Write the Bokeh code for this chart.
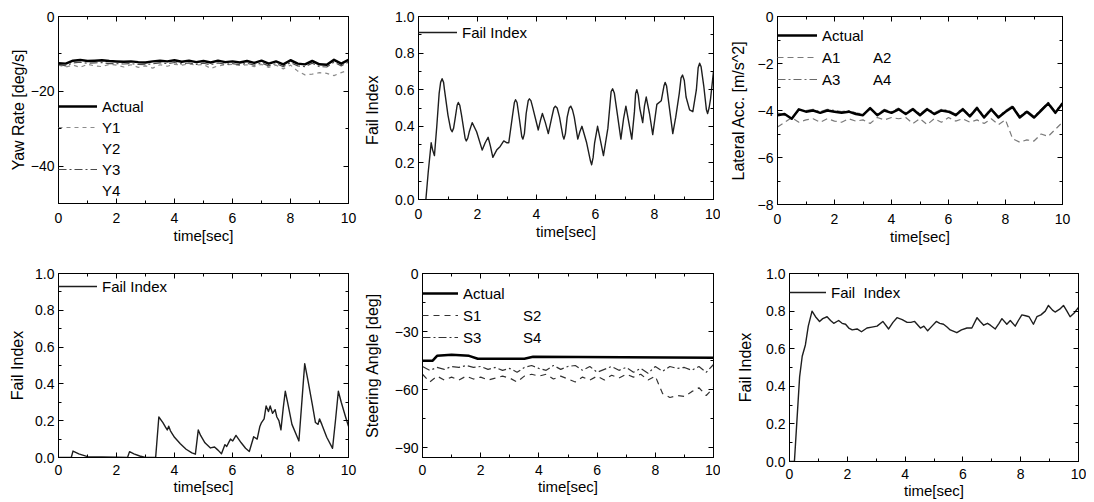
from bokeh.plotting import figure
from bokeh.models import (Range1d, LinearAxis, FixedTicker, NumeralTickFormatter,
                          BasicTickFormatter, Legend, LegendItem)
from bokeh.layouts import row, column
from bokeh.embed import file_html
from bokeh.resources import INLINE

FONT = "Liberation Sans"

# ---------------- data ----------------
x_ticks = [0, 2, 4, 6, 8, 10]
x_minor = [1, 3, 5, 7, 9]

t_grid = [0.0, 0.25, 0.5, 0.75, 1.0, 1.25, 1.5, 1.75, 2.0, 2.25, 2.5, 2.75, 3.0, 3.25,
          3.5, 3.75, 4.0, 4.25, 4.5, 4.75, 5.0, 5.25, 5.5, 5.75, 6.0, 6.25, 6.5, 6.75,
          7.0, 7.25, 7.5, 7.75, 8.0, 8.25, 8.5, 8.75, 9.0, 9.25, 9.5, 9.75, 10.0]

# Yaw rate [deg/s]
yaw_actual = [-12.5, -12.6, -11.8, -11.6, -11.9, -11.8, -11.7, -11.9, -12.0, -12.1,
              -12.0, -12.2, -12.3, -12.0, -11.8, -12.0, -11.7, -12.1, -11.8, -12.2,
              -11.9, -12.3, -11.8, -12.2, -12.0, -12.3, -11.9, -12.4, -11.8, -12.6,
              -12.0, -12.8, -11.7, -12.6, -12.8, -11.9, -12.8, -12.9, -11.6, -12.6, -11.6]
yaw_y1 = [-13.0, -13.5, -13.0, -13.6, -12.8, -13.2, -13.4, -12.8, -13.0, -13.5,
          -12.9, -13.6, -13.2, -13.8, -12.9, -13.3, -12.8, -13.0, -12.7, -13.0,
          -12.8, -13.9, -13.2, -12.9, -12.8, -13.1, -12.9, -13.4, -12.8, -13.6,
          -13.0, -14.0, -13.0, -14.6, -15.6, -15.4, -15.0, -15.2, -15.8, -15.0, -14.4]
yaw_y3 = [-12.8, -13.2, -12.4, -12.2, -12.5, -12.4, -12.3, -12.6, -12.6, -12.7,
          -12.6, -12.8, -12.9, -12.6, -12.4, -12.6, -12.3, -12.7, -12.4, -12.8,
          -12.5, -12.9, -12.4, -12.8, -12.6, -12.9, -12.5, -13.0, -12.4, -13.2,
          -12.6, -13.4, -12.3, -13.2, -13.4, -12.5, -13.4, -13.5, -12.2, -13.2, -12.2]

# Fail index (top middle)
t_fi2 = [0.25, 0.33, 0.43, 0.48, 0.54, 0.62, 0.70, 0.75, 0.80, 0.85,
         0.88, 1.0, 1.09, 1.14, 1.19, 1.24, 1.31, 1.35, 1.40, 1.46,
         1.58, 1.62, 1.67, 1.72, 1.82, 1.97, 2.16, 2.26, 2.36, 2.44,
         2.52, 2.65, 2.77, 2.89, 3.0, 3.06, 3.18, 3.25, 3.29, 3.34,
         3.42, 3.50, 3.54, 3.59, 3.65, 3.72, 3.76, 3.81, 3.86, 4.06,
         4.13, 4.20, 4.30, 4.40, 4.52, 4.59, 4.64, 4.70, 4.78, 4.89,
         4.93, 4.98, 5.04, 5.11, 5.16, 5.22, 5.28, 5.40, 5.47, 5.54,
         5.70, 5.83, 5.87, 5.92, 5.97, 6.07, 6.17, 6.27, 6.42, 6.53,
         6.58, 6.64, 6.72, 6.86, 6.95, 7.03, 7.13, 7.23, 7.32, 7.36,
         7.40, 7.45, 7.50, 7.60, 7.66, 7.72, 7.83, 7.94, 8.08, 8.23,
         8.32, 8.36, 8.41, 8.49, 8.62, 8.72, 8.84, 8.90, 8.95, 9.01,
         9.07, 9.19, 9.30, 9.42, 9.48, 9.53, 9.58, 9.67, 9.76, 9.80,
         9.85, 9.90, 10.0]
v_fi2 = [0.0, 0.15, 0.31, 0.27, 0.24, 0.40, 0.58, 0.64, 0.66, 0.64,
         0.60, 0.46, 0.385, 0.37, 0.39, 0.44, 0.515, 0.53, 0.515, 0.46,
         0.335, 0.32, 0.335, 0.37, 0.42, 0.37, 0.27, 0.31, 0.34, 0.29,
         0.23, 0.27, 0.29, 0.32, 0.31, 0.31, 0.45, 0.53, 0.545, 0.53,
         0.44, 0.345, 0.33, 0.36, 0.47, 0.54, 0.55, 0.54, 0.51, 0.38,
         0.43, 0.47, 0.42, 0.36, 0.45, 0.50, 0.51, 0.50, 0.45, 0.35,
         0.33, 0.36, 0.45, 0.50, 0.51, 0.49, 0.45, 0.33, 0.37, 0.40,
         0.31, 0.21, 0.19, 0.23, 0.31, 0.40, 0.32, 0.24, 0.39, 0.59,
         0.605, 0.58, 0.49, 0.33, 0.44, 0.51, 0.42, 0.33, 0.48, 0.58,
         0.60, 0.57, 0.50, 0.42, 0.51, 0.56, 0.47, 0.355, 0.52, 0.54,
         0.62, 0.64, 0.62, 0.52, 0.36, 0.45, 0.58, 0.665, 0.68, 0.65,
         0.56, 0.49, 0.48, 0.60, 0.72, 0.745, 0.725, 0.62, 0.49, 0.47,
         0.50, 0.55, 0.70]

# Lateral acceleration [m/s^2]
lat_actual = [-4.2, -4.15, -4.35, -3.95, -4.05, -4.0, -4.1, -4.0, -4.05, -4.1,
              -4.05, -4.15, -4.2, -3.9, -4.2, -4.0, -4.1, -3.95, -4.15, -3.95,
              -4.2, -3.95, -4.15, -4.0, -4.05, -4.2, -3.95, -4.25, -3.9, -4.3,
              -3.95, -4.3, -4.05, -3.85, -4.3, -4.05, -4.3, -4.0, -3.7, -4.1, -3.7]
lat_a1 = [-4.7, -4.5, -4.3, -4.5, -4.4, -4.35, -4.5, -4.35, -4.45, -4.5,
          -4.35, -4.45, -4.4, -4.55, -4.3, -4.4, -4.3, -4.35, -4.3, -4.55,
          -4.35, -4.6, -4.35, -4.5, -4.3, -4.45, -4.35, -4.5, -4.4, -4.55,
          -4.35, -4.6, -4.4, -5.2, -5.35, -5.25, -5.3, -5.0, -5.1, -4.8, -4.5]
lat_a3 = [-4.1, -4.2, -4.3, -4.0, -4.0, -3.95, -4.05, -3.95, -4.0, -4.05,
          -4.0, -4.1, -4.15, -3.95, -4.15, -3.95, -4.05, -3.9, -4.1, -3.9,
          -4.15, -3.9, -4.1, -3.95, -4.0, -4.15, -3.9, -4.2, -3.85, -4.25,
          -3.9, -4.25, -4.0, -3.8, -4.25, -4.0, -4.25, -3.95, -3.65, -4.05, -3.65]

# Fail index (bottom left)
t_fi4 = [0, 0.44, 0.50, 0.7, 1.0, 1.5, 2.0, 2.38, 2.45, 2.6,
         2.8, 3.0, 3.35, 3.46, 3.6, 3.69, 3.75, 3.80, 3.86, 4.0,
         4.2, 4.4, 4.6, 4.72, 4.82, 4.9, 5.05, 5.24, 5.38, 5.5,
         5.62, 5.74, 5.8, 5.88, 5.93, 6.01, 6.12, 6.3, 6.45, 6.58,
         6.73, 6.85, 6.94, 7.0, 7.09, 7.16, 7.24, 7.3, 7.38, 7.47,
         7.53, 7.6, 7.67, 7.75, 7.82, 7.9, 8.05, 8.29, 8.4, 8.49,
         8.6, 8.75, 8.86, 8.95, 9.0, 9.08, 9.25, 9.45, 9.55, 9.65,
         9.75, 9.9, 10.0]
v_fi4 = [0, 0, 0.035, 0.02, 0.005, 0.003, 0.002, 0, 0.032, 0.02,
         0.008, 0, 0, 0.22, 0.19, 0.165, 0.15, 0.17, 0.145, 0.11,
         0.075, 0.045, 0.025, 0.018, 0.15, 0.12, 0.08, 0.052, 0.057, 0.04,
         0.02, 0.07, 0.06, 0.085, 0.10, 0.09, 0.12, 0.08, 0.05, 0.033,
         0.113, 0.10, 0.167, 0.19, 0.21, 0.28, 0.25, 0.28, 0.24, 0.26,
         0.22, 0.2, 0.15, 0.27, 0.36, 0.3, 0.18, 0.09, 0.32, 0.51,
         0.42, 0.29, 0.19, 0.18, 0.21, 0.18, 0.11, 0.05, 0.2, 0.36,
         0.3, 0.22, 0.17]

# Steering angle [deg]
t_steer_act = [0, 0.35, 0.5, 1.0, 1.6, 1.9, 3.5, 3.8, 10]
steer_actual = [-45, -45, -42.5, -42, -42.5, -44, -44, -43, -43.5]
steer_s1 = [-52, -56, -53, -55, -53.5, -55, -53, -54.5, -53.5, -55,
            -54, -53, -54, -56, -53, -52, -53, -52, -54.5, -53,
            -54.5, -56, -53.5, -55, -53, -55, -52.5, -54, -52, -53.5,
            -52, -55, -53, -62, -64, -63, -63.5, -61, -59, -63, -59]
steer_s3 = [-48, -50, -48.5, -49.5, -48, -48.5, -47.5, -48.5, -48, -49.5,
            -48.5, -50, -49, -51, -48.5, -47.5, -49, -50, -47.5, -49.5,
            -48, -47.5, -50, -48, -51, -49.5, -48, -50, -48.5, -51,
            -49, -51.5, -48, -50.5, -48, -49, -48.5, -50, -48, -51, -47]

# Fail index (bottom right)
t_fi6 = [0, 0.17, 0.25, 0.35, 0.44, 0.55, 0.65, 0.78, 0.9, 1.04,
         1.15, 1.30, 1.42, 1.53, 1.70, 1.82, 1.94, 2.05, 2.17, 2.34,
         2.49, 2.68, 2.85, 3.03, 3.23, 3.43, 3.58, 3.72, 3.9, 4.07,
         4.2, 4.33, 4.53, 4.65, 4.78, 4.93, 5.08, 5.2, 5.33, 5.45,
         5.56, 5.79, 5.95, 6.14, 6.31, 6.49, 6.6, 6.72, 6.85, 6.95,
         7.12, 7.25, 7.35, 7.52, 7.64, 7.81, 7.92, 8.04, 8.17, 8.29,
         8.44, 8.56, 8.70, 8.85, 8.96, 9.1, 9.19, 9.35, 9.48, 9.6,
         9.71, 9.85, 10.0]
v_fi6 = [0, 0, 0.2, 0.45, 0.56, 0.62, 0.72, 0.80, 0.77, 0.745,
         0.76, 0.77, 0.75, 0.735, 0.75, 0.735, 0.73, 0.71, 0.70, 0.705,
         0.69, 0.71, 0.715, 0.72, 0.745, 0.705, 0.74, 0.765, 0.755, 0.74,
         0.74, 0.745, 0.71, 0.72, 0.695, 0.72, 0.745, 0.735, 0.73, 0.715,
         0.70, 0.685, 0.70, 0.71, 0.71, 0.765, 0.745, 0.725, 0.735, 0.725,
         0.705, 0.735, 0.76, 0.73, 0.75, 0.72, 0.75, 0.78, 0.775, 0.77,
         0.73, 0.77, 0.78, 0.80, 0.83, 0.805, 0.795, 0.81, 0.83, 0.80,
         0.77, 0.79, 0.82]

fail_ticks = [0.0, 0.2, 0.4, 0.6, 0.8, 1.0]
fail_minor = [0.1, 0.3, 0.5, 0.7, 0.9]


# ---------------- helpers ----------------
def make_fig(fw, fh, bl, br, bt, bb, y0, y1):
    p = figure(frame_width=fw, frame_height=fh,
               min_border_left=bl, min_border_right=br,
               min_border_top=bt, min_border_bottom=bb,
               x_range=Range1d(0, 10), y_range=Range1d(y0, y1),
               x_axis_type=None, y_axis_type=None,
               output_backend="svg", toolbar_location=None)
    p.outline_line_color = "black"
    p.outline_line_width = 1
    p.background_fill_color = "white"
    p.border_fill_color = "white"
    return p


def add_axes(p, yt, ym, yfmt, ylabel, ystand, xtick_stand=9, xlab_stand=1):
    tick = dict(major_tick_in=5, major_tick_out=0, minor_tick_in=3, minor_tick_out=0,
                axis_line_color="black", major_tick_line_color="black",
                minor_tick_line_color="black", axis_line_width=1)
    lab = dict(major_label_text_font=FONT, major_label_text_font_size="14px",
               major_label_text_color="black", axis_label_text_font=FONT,
               axis_label_text_font_style="normal", axis_label_text_color="black")
    xb = LinearAxis(ticker=FixedTicker(ticks=x_ticks, minor_ticks=x_minor),
                    axis_label="time[sec]", axis_label_text_font_size="15px",
                    major_label_standoff=xtick_stand, axis_label_standoff=xlab_stand,
                    **tick, **lab)
    yl = LinearAxis(ticker=FixedTicker(ticks=yt, minor_ticks=ym), formatter=yfmt,
                    axis_label=ylabel, axis_label_text_font_size="16px",
                    major_label_standoff=4, axis_label_standoff=ystand, **tick, **lab)
    xt = LinearAxis(ticker=FixedTicker(ticks=x_ticks, minor_ticks=x_minor),
                    major_label_text_font_size="0px", major_label_text_alpha=0,
                    major_label_standoff=0, **tick)
    yr = LinearAxis(ticker=FixedTicker(ticks=yt, minor_ticks=ym),
                    major_label_text_font_size="0px", major_label_text_alpha=0,
                    major_label_standoff=0, **tick)
    p.add_layout(xb, "below")
    p.add_layout(yl, "left")
    p.add_layout(xt, "above")
    p.add_layout(yr, "right")


def add_legend(p, items, loc, glyph_w, standoff, spacing):
    lg = Legend(items=items, location=loc, orientation="vertical",
                glyph_width=glyph_w, glyph_height=20, label_height=20,
                label_standoff=standoff, spacing=spacing, padding=0, margin=0,
                border_line_alpha=0, background_fill_alpha=0,
                label_text_font=FONT, label_text_font_size="15px",
                label_text_color="black")
    p.add_layout(lg)


FI_COLOR = "#1e1e1e"

# ---------------- panel 1: yaw rate ----------------
f1 = make_fig(290, 187, 58, 12, 16, 47, -50, 0)
add_axes(f1, [0, -20, -40], [-10, -30, -50], BasicTickFormatter(), "Yaw Rate [deg/s]", 1)
r_y1 = f1.line(t_grid, yaw_y1, line_color="#8c8c8c", line_width=1.2, line_dash="4 4")
r_y2 = f1.line([], [], line_alpha=0)
r_y3 = f1.line(t_grid, yaw_y3, line_color="#4a4a4a", line_width=1.2, line_dash="8 3 2 3")
r_y4 = f1.line([], [], line_alpha=0)
r_ya = f1.line(t_grid, yaw_actual, line_color="black", line_width=2.5, line_join="round")
add_legend(f1, [LegendItem(label="Actual", renderers=[r_ya]),
                LegendItem(label="Y1", renderers=[r_y1]),
                LegendItem(label="Y2", renderers=[r_y2]),
                LegendItem(label="Y3", renderers=[r_y3]),
                LegendItem(label="Y4", renderers=[r_y4])], (0, 3), 39, 5, 1)

# ---------------- panel 2: fail index ----------------
f2 = make_fig(295, 183, 58, 7, 16, 51, 0, 1)
add_axes(f2, fail_ticks, fail_minor, NumeralTickFormatter(format="0.0"), "Fail  Index", 11)
r_f2 = f2.line(t_fi2, v_fi2, line_color=FI_COLOR, line_width=1.4, line_join="round")
add_legend(f2, [LegendItem(label="Fail Index", renderers=[r_f2])], (0, 157), 39, 5, 0)

# ---------------- panel 3: lateral acc ----------------
f3 = make_fig(285, 188, 57, 30, 16, 46, -8, 0)
add_axes(f3, [0, -2, -4, -6, -8], [-1, -3, -5, -7], BasicTickFormatter(),
         "Lateral Acc. [m/s^2]", 8)
r_a1 = f3.line(t_grid, lat_a1, line_color="#7a7a7a", line_width=1.2, line_dash="6 4")
r_a2 = f3.line([], [], line_alpha=0)
r_a3 = f3.line(t_grid, lat_a3, line_color="#6a6a6a", line_width=1.2, line_dash="8 3 2 3")
r_a4 = f3.line([], [], line_alpha=0)
r_aa = f3.line(t_grid, lat_actual, line_color="black", line_width=2.5, line_join="round")
add_legend(f3, [LegendItem(label="Actual", renderers=[r_aa]),
                LegendItem(label="A1", renderers=[r_a1]),
                LegendItem(label="A3", renderers=[r_a3])], (0, 115), 40, 5, 2)
add_legend(f3, [LegendItem(label="A2", renderers=[r_a2]),
                LegendItem(label="A4", renderers=[r_a4])], (95, 115), 1, 0, 2)

# ---------------- panel 4: fail index ----------------
f4 = make_fig(290, 184, 58, 12, 23, 43, 0, 1)
add_axes(f4, fail_ticks, fail_minor, NumeralTickFormatter(format="0.0"), "Fail Index", 6,
         xtick_stand=7, xlab_stand=0)
r_f4 = f4.line(t_fi4, v_fi4, line_color=FI_COLOR, line_width=1.4, line_join="round")
add_legend(f4, [LegendItem(label="Fail Index", renderers=[r_f4])], (0, 161), 39, 5, 0)

# ---------------- panel 5: steering angle ----------------
f5 = make_fig(291, 184, 62, 7, 23, 43, -95, 0)
add_axes(f5, [0, -30, -60, -90], [-15, -45, -75], BasicTickFormatter(),
         "Steering Angle [deg]", 11, xtick_stand=7, xlab_stand=0)
r_s1 = f5.line(t_grid, steer_s1, line_color="#333333", line_width=1.2, line_dash="6 5")
r_s2 = f5.line([], [], line_alpha=0)
r_s3 = f5.line(t_grid, steer_s3, line_color="#333333", line_width=1.2, line_dash="8 3 2 3")
r_s4 = f5.line([], [], line_alpha=0)
r_sa = f5.line(t_steer_act, steer_actual, line_color="black", line_width=2.5)
add_legend(f5, [LegendItem(label="Actual", renderers=[r_sa]),
                LegendItem(label="S1", renderers=[r_s1]),
                LegendItem(label="S3", renderers=[r_s3])], (0, 110), 36, 5, 2)
add_legend(f5, [LegendItem(label="S2", renderers=[r_s2]),
                LegendItem(label="S4", renderers=[r_s4])], (100, 110), 1, 0, 2)

# ---------------- panel 6: fail index ----------------
f6 = make_fig(289, 188, 69, 8, 23, 39, 0, 1)
add_axes(f6, fail_ticks, fail_minor, NumeralTickFormatter(format="0.0"), "Fail Index", 9,
         xtick_stand=7, xlab_stand=0)
r_f6 = f6.line(t_fi6, v_fi6, line_color=FI_COLOR, line_width=1.4, line_join="round")
add_legend(f6, [LegendItem(label="Fail  Index", renderers=[r_f6])], (0, 159), 37, 5, 0)

layout = column(row(f1, f2, f3, spacing=0), row(f4, f5, f6, spacing=0), spacing=0)

open("out.html", "w").write(file_html(layout, INLINE))
